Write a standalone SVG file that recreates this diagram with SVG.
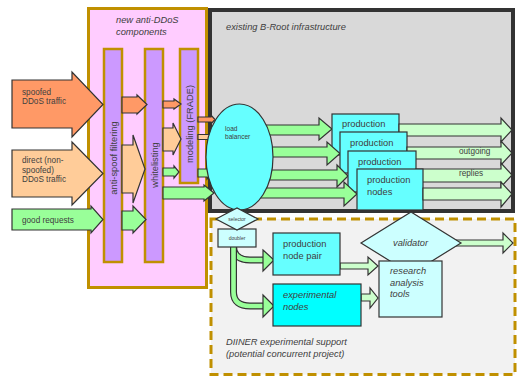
<svg xmlns="http://www.w3.org/2000/svg" width="518" height="377" viewBox="0 0 518 377">
  <style>
    text { font-family: "Liberation Sans", Arial, sans-serif; fill: #404040; }
    .t { font-size: 9.3px; }
    .s { font-size: 8.2px; }
    .i { font-style: italic; }
    .ln { stroke: #333; stroke-width: 1.2; stroke-linejoin: miter; }
    .orange { fill: #ff9966; }
    .peach { fill: #ffcc99; }
    .green { fill: #99ff99; }
    .lgreen { fill: #ccffcc; }
    .bar { fill: #cc99ff; stroke: #c09000; stroke-width: 2.5; }
    .cyan { fill: #66ffff; }
    .lcyan { fill: #ccffff; }
  </style>

  <!-- regions -->
  <g id="anti-ddos-region">
    <rect x="88.5" y="8.5" width="118" height="279" fill="#ffccff" stroke="#c09000" stroke-width="3"/>
    <text class="t i" x="116" y="23">new anti-DDoS</text>
    <text class="t i" x="116" y="35">components</text>
  </g>
  <g id="broot-region">
    <rect x="210" y="10" width="303" height="201" fill="#d9d9d9" stroke="#333" stroke-width="4"/>
    <text class="t i" x="226" y="30">existing B-Root infrastructure</text>
  </g>
  <g id="diiner-region">
    <rect x="211" y="219" width="304" height="155.5" fill="#f2f2f2" stroke="#c09000" stroke-width="3" stroke-dasharray="9,5"/>
    <text class="t i" x="226" y="345">DIINER experimental support</text>
    <text class="t i" x="226" y="357">(potential concurrent project)</text>
  </g>

  <!-- filter stages -->
  <g id="anti-spoof">
    <rect class="bar" x="104" y="49" width="18" height="213"/>
    <text class="t" transform="translate(116.5,158) rotate(-90)" text-anchor="middle">anti-spoof filtering</text>
  </g>
  <g id="whitelisting">
    <rect class="bar" x="145" y="49" width="18" height="213"/>
    <text class="t" transform="translate(157.5,165) rotate(-90)" text-anchor="middle">whitelisting</text>
  </g>
  <g id="modeling">
    <rect class="bar" x="180" y="49" width="18" height="134"/>
    <text class="t" transform="translate(192.5,124) rotate(-90)" text-anchor="middle">modeling (FRADE)</text>
  </g>

  <!-- connectors -->
  <g id="connectors">
    <!-- traffic entering -->
    <polygon class="orange ln" points="12,80 72,80 72,72 103,104.5 72,137 72,128 12,128"/>
    <text class="s" x="22" y="95">spoofed</text>
    <text class="s" x="22" y="104">DDoS traffic</text>
    <polygon class="peach ln" points="12,150 72,150 72,142 103,173.5 72,205 72,197 12,197"/>
    <text class="s" x="22" y="163">direct (non-</text>
    <text class="s" x="22" y="172.5">spoofed)</text>
    <text class="s" x="22" y="182">DDoS traffic</text>
    <polygon class="green ln" points="12,209 91,209 91,206 103,219.5 91,233 91,230 12,230"/>
    <text class="s" x="22" y="223">good requests</text>

    <!-- anti-spoof to whitelisting -->
    <polygon class="orange ln" points="122,97 137,97 137,95 147,104.5 137,114 137,113 122,113"/>
    <polygon class="peach ln" points="122,145 133,145 133,135 145,169 133,203 133,193 122,193"/>
    <polygon class="green ln" points="122,211 133,211 133,206 146,219.5 133,233 133,230 122,230"/>

    <!-- whitelisting to modeling / load balancer -->
    <polygon class="orange ln" points="163,101 174,101 174,99 181,104 174,109 174,108 163,108"/>
    <polygon class="peach ln" points="163,128 173,128 173,123 181,139 173,155 173,151 163,151"/>
    <polygon class="green ln" points="163,168 174,168 174,166 179,172 174,178 174,176 163,176"/>
    <polygon class="green ln" points="163,187 204,187 204,185 214,193 204,201 204,199 163,199"/>

    <!-- modeling to load balancer -->
    <polygon class="orange ln" points="198,117 211,117 211,115 215,119.5 211,124 211,122 198,122"/>
    <polygon class="peach ln" points="198,134.5 211,134.5 211,132.5 215,137 211,141.5 211,139.5 198,139.5"/>
    <polygon class="green ln" points="198,169 207,169 207,167 212,173 207,179 207,177 198,177"/>

    <!-- doubler outputs -->
    <path d="M233.5,246 C233.5,256 240,260 250,260 L264,260" fill="none" stroke="#333" stroke-width="7"/>
    <path d="M233.5,246 C233.5,256 240,260 250,260 L265,260" fill="none" stroke="#99ff99" stroke-width="4.6"/>
    <path d="M233.5,246 L233.5,292 C233.5,302 240,306 250,306 L264,306" fill="none" stroke="#333" stroke-width="7"/>
    <path d="M233.5,246 L233.5,292 C233.5,302 240,306 250,306 L265,306" fill="none" stroke="#99ff99" stroke-width="4.6"/>
    <polygon class="green ln" points="263,250 274,260 263,271"/>
    <polygon class="green ln" points="263,295 274,306 263,317"/>

    <!-- into research analysis tools -->
    <polygon class="lgreen ln" points="340,263 368,263 368,257 378,266 368,275 368,269 340,269"/>
    <polygon class="lgreen ln" points="361,294 370,294 370,288 378,298 370,308 370,301 361,301"/>
    <polygon class="lgreen ln" points="450,240 503,240 503,233 513,243 503,253 503,246 450,246"/>
  </g>

  <!-- production pool: feeds, boxes and replies layered front to back -->
  <g id="production-pool">
    <polygon class="green ln" points="255,125 319,125 319,118 332,129 319,140 319,135 255,135"/>
    <rect class="cyan ln" x="332" y="114" width="67" height="41"/>
    <text class="t" x="342" y="127">production</text>
    <polygon class="lgreen ln" points="399,124 501,124 501,118 512,130 501,142 501,136 399,136"/>

    <polygon class="green ln" points="255,147 327,147 327,142 340,153.5 327,165 327,157 255,157"/>
    <rect class="cyan ln" x="340" y="132" width="67" height="41"/>
    <text class="t" x="350" y="146">production</text>
    <polygon class="lgreen ln" points="407,147 501,147 501,141 512,153 501,165 501,159 407,159"/>

    <polygon class="green ln" points="255,170 337,170 337,165 348,176 337,187 337,180 255,180"/>
    <rect class="cyan ln" x="348" y="151" width="68" height="41"/>
    <text class="t" x="358" y="165">production</text>
    <polygon class="lgreen ln" points="416,169 501,169 501,163 512,175 501,187 501,182 416,182"/>

    <polygon class="green ln" points="255,188 344,188 344,182 357,194 344,206 344,198 255,198"/>
    <rect class="cyan ln" x="357" y="169" width="66" height="41"/>
    <text class="t" x="367" y="183">production</text>
    <text class="t" x="367" y="195">nodes</text>
    <polygon class="lgreen ln" points="423,188 501,188 501,182 512,194 501,207 501,200 423,200"/>

    <text class="s" x="459" y="154">outgoing</text>
    <text class="s" x="459" y="176">replies</text>
  </g>

  <g id="load-balancer">
    <ellipse class="cyan ln" cx="239.5" cy="157" rx="33.5" ry="53"/>
    <text x="225" y="131" style="font-size:6.6px">load</text>
    <text x="225" y="139" style="font-size:6.6px">balancer</text>
  </g>

  <g id="doubler">
    <rect class="lcyan ln" x="218" y="229" width="38" height="18"/>
    <text x="237" y="240" text-anchor="middle" style="font-size:5px">doubler</text>
  </g>
  <g id="selector">
    <polygon class="lcyan ln" points="216,219 237,208 258,219 237,230"/>
    <text x="237" y="220.5" text-anchor="middle" style="font-size:5px">selector</text>
  </g>

  <g id="production-node-pair">
    <rect class="cyan ln" x="273" y="233" width="67" height="42"/>
    <text class="t" x="283" y="247">production</text>
    <text class="t" x="283" y="259">node pair</text>
  </g>
  <g id="experimental-nodes">
    <rect fill="#00ffff" class="ln" x="273" y="284" width="88" height="42" stroke-width="1.6"/>
    <text class="t i" x="283" y="298">experimental</text>
    <text class="t i" x="283" y="310">nodes</text>
  </g>
  <g id="validator">
    <polygon class="lcyan ln" points="361,243 411,212 461,243 411,274"/>
    <text class="t i" x="393" y="246">validator</text>
  </g>
  <g id="research-tools">
    <rect class="lcyan ln" x="379" y="261" width="63" height="56"/>
    <text class="t i" x="390" y="274">research</text>
    <text class="t i" x="390" y="286">analysis</text>
    <text class="t i" x="390" y="297">tools</text>
  </g>
</svg>
